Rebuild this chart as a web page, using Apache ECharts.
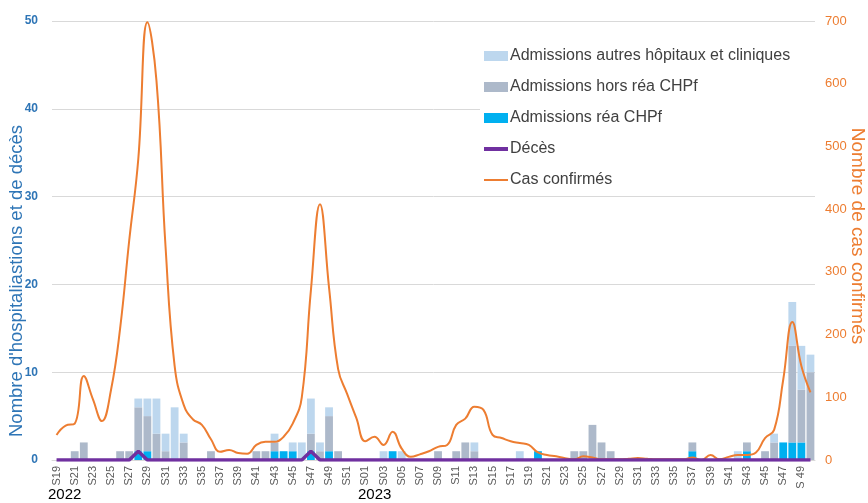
<!DOCTYPE html>
<html>
<head>
<meta charset="utf-8">
<script src="https://cdn.jsdelivr.net/npm/echarts@6/dist/echarts.min.js"></script>
<style>
  html, body { margin: 0; padding: 0; background: #fff; }
  #chart { width: 868px; height: 503px; }
</style>
</head>
<body>
<div id="chart"></div>
<script>
// semaines S19 2022 -> S50 2023
const weeks = [
  'S19','S20','S21','S22','S23','S24','S25','S26','S27','S28','S29','S30','S31','S32','S33','S34','S35','S36',
  'S37','S38','S39','S40','S41','S42','S43','S44','S45','S46','S47','S48','S49','S50','S51','S52',
  'S01','S02','S03','S04','S05','S06','S07','S08','S09','S10','S11','S12','S13','S14','S15','S16','S17','S18',
  'S19','S20','S21','S22','S23','S24','S25','S26','S27','S28','S29','S30','S31','S32','S33','S34','S35','S36',
  'S37','S38','S39','S40','S41','S42','S43','S44','S45','S46','S47','S48','S 49','S50'
];

// Admissions réa CHPf
const reaChpf = [
  0,0,0,0,0,0,0,0,0,1,1,0,0,0,0,0,0,0,
  0,0,0,0,0,0,1,1,1,0,1,0,1,0,0,0,
  0,0,0,1,0,0,0,0,0,0,0,0,0,0,0,0,0,0,
  0,1,0,0,0,0,0,0,0,0,0,0,0,0,0,0,0,0,
  1,0,0,0,0,0,1,0,0,0,2,2,2,0
];
// Admissions hors réa CHPf
const horsReaChpf = [
  0,0,1,2,0,0,0,1,1,5,4,3,1,0,2,0,0,1,
  0,0,0,0,1,1,1,0,0,0,2,1,4,1,0,0,
  0,0,0,0,0,0,0,0,1,0,1,2,1,0,0,0,0,0,
  0,0,0,0,0,1,1,4,2,1,0,0,0,0,0,0,0,0,
  1,0,0,0,0,0,1,0,1,2,0,11,6,10
];
// Admissions autres hôpitaux et cliniques
const autresHopitaux = [
  0,0,0,0,0,0,0,0,0,1,2,4,2,6,1,0,0,0,
  0,0,0,0,0,0,1,0,1,2,4,1,1,0,0,0,
  0,0,1,0,1,0,0,0,0,0,0,0,1,0,0,0,0,1,
  0,0,0,0,0,0,0,0,0,0,0,0,0,0,0,0,0,0,
  0,0,0,0,0,1,0,0,0,1,0,5,5,2
];
// Décès
const deces = [
  0,0,0,0,0,0,0,0,0,1,0,0,0,0,0,0,0,0,
  0,0,0,0,0,0,0,0,0,0,1,0,0,0,0,0,
  0,0,0,0,0,0,0,0,0,0,0,0,0,0,0,0,0,0,
  0,0,0,0,0,0,0,0,0,0,0,0,0,0,0,0,0,0,
  0,0,0,0,0,0,0,0,0,0,0,0,0,0
];
// Cas confirmés
const casConfirmes = [
  40,55,58,134,97,62,112,210,350,480,698,605,340,150,88,65,56,33,
  13,16,11,10,24,29,29,37,58,100,270,408,275,145,105,67,
  30,37,24,45,18,5,9,14,21,24,56,66,85,80,40,35,30,27,
  24,12,8,6,3,1,6,4,1,1,1,2,3,2,1,1,1,1,
  4,0,8,1,5,8,8,12,35,48,128,220,150,108
];

const FONT = 'Liberation Sans, Arial, sans-serif';
const chart = echarts.init(document.getElementById('chart'));

const option = {
  animation: false,
  textStyle: { fontFamily: FONT },
  grid: { left: 52, right: 53, top: 21, bottom: 43 },
  legend: {
    orient: 'vertical',
    left: 480,
    top: 44,
    itemWidth: 24,
    itemHeight: 10,
    itemGap: 15,
    padding: [4, 26, 4, 4],
    backgroundColor: '#ffffff',
    textStyle: { color: '#404040', fontSize: 16, padding: [0, 0, 0, -3] },
    data: [
      { name: 'Admissions autres hôpitaux et cliniques', icon: 'rect' },
      { name: 'Admissions hors réa CHPf', icon: 'rect' },
      { name: 'Admissions réa CHPf', icon: 'rect' },
      { name: 'Décès', icon: 'path://M0,0 L24,0 L24,4 L0,4 Z' },
      { name: 'Cas confirmés', icon: 'path://M0,0 L24,0 L24,2 L0,2 Z' }
    ]
  },
  xAxis: {
    type: 'category',
    data: weeks,
    boundaryGap: true,
    axisLine: { show: true, lineStyle: { color: '#d9d9d9' } },
    axisTick: { show: false },
    axisLabel: {
      interval: 1,
      rotate: 90,
      color: '#595959',
      fontSize: 11,
      margin: 6
    }
  },
  yAxis: [
    {
      type: 'value',
      min: 0,
      max: 50,
      interval: 10,
      axisLine: { show: false },
      axisTick: { show: false },
      splitLine: { lineStyle: { color: '#d9d9d9', width: 1 } },
      axisLabel: { color: '#2E75B6', fontSize: 12, fontWeight: 'bold', margin: 14 }
    },
    {
      type: 'value',
      min: 0,
      max: 700,
      interval: 100,
      position: 'right',
      axisLine: { show: false },
      axisTick: { show: false },
      splitLine: { show: false },
      axisLabel: { color: '#ED7D31', fontSize: 13, margin: 10 }
    }
  ],
  series: [
    {
      name: 'Admissions réa CHPf',
      type: 'bar',
      stack: 'adm',
      data: reaChpf,
      barCategoryGap: '14%',
      itemStyle: { color: '#00B0F0' }
    },
    {
      name: 'Admissions hors réa CHPf',
      type: 'bar',
      stack: 'adm',
      data: horsReaChpf,
      itemStyle: { color: '#ADB9CA' }
    },
    {
      name: 'Admissions autres hôpitaux et cliniques',
      type: 'bar',
      stack: 'adm',
      data: autresHopitaux,
      itemStyle: { color: '#BDD7EE' }
    },
    {
      name: 'Décès',
      type: 'line',
      data: deces,
      symbol: 'none',
      z: 5,
      lineStyle: { color: '#7030A0', width: 3.5 },
      itemStyle: { color: '#7030A0' }
    },
    {
      name: 'Cas confirmés',
      type: 'line',
      yAxisIndex: 1,
      data: casConfirmes,
      symbol: 'none',
      smooth: 0.45,
      z: 4,
      lineStyle: { color: '#ED7D31', width: 2 },
      itemStyle: { color: '#ED7D31' }
    }
  ],
  graphic: [
    {
      type: 'text',
      x: 17,
      y: 281,
      rotation: Math.PI / 2,
      style: {
        text: "Nombre d'hospitaliastions et de décès",
        fill: '#2E75B6',
        fontSize: 18.5,
        fontFamily: FONT,
        align: 'center',
        verticalAlign: 'middle'
      }
    },
    {
      type: 'text',
      x: 857,
      y: 236,
      rotation: -Math.PI / 2,
      style: {
        text: 'Nombre de cas confirmés',
        fill: '#ED7D31',
        fontSize: 19,
        fontFamily: FONT,
        align: 'center',
        verticalAlign: 'middle'
      }
    },
    {
      type: 'text',
      left: 48,
      top: 487,
      style: { text: '2022', fill: '#000', fontSize: 15, fontFamily: FONT }
    },
    {
      type: 'text',
      left: 358,
      top: 487,
      style: { text: '2023', fill: '#000', fontSize: 15, fontFamily: FONT }
    }
  ]
};

chart.setOption(option);
</script>
</body>
</html>
